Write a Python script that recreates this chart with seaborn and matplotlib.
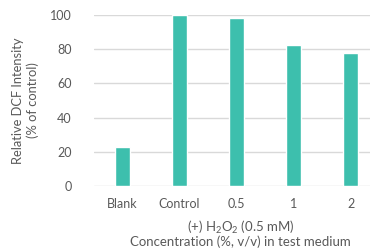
import pandas as pd
import numpy as np
import seaborn as sns
import matplotlib.pyplot as plt

categories = ['Blank', 'Control', '0.5', '1', '2']
intensity = [23, 100, 98, 82.5, 78]
yticks = [0, 20, 40, 60, 80, 100]

sns.set_style('white')
plt.rcParams['font.family'] = ['Lato', 'DejaVu Sans']
plt.rcParams['mathtext.default'] = 'regular'
gray = '#595959'

df = pd.DataFrame({'cat': categories, 'val': intensity})

fig = plt.figure(figsize=(3.7, 2.48), dpi=100)
ax = fig.add_axes([0.254, 0.25, 0.746, 0.69])
sns.barplot(data=df, x='cat', y='val', color='#3dbfad', saturation=1, width=0.27, ax=ax)
ax.set_ylim(0, 100)
ax.set_yticks(yticks)
ax.set_xlim(-0.5, 4.34)
ax.yaxis.grid(True, color='#d9d9d9', linewidth=1)
ax.set_axisbelow(True)
for s in ax.spines.values():
    s.set_visible(False)
ax.tick_params(axis='both', colors=gray, labelsize=9, length=0)
ax.tick_params(axis='x', pad=9)
ax.tick_params(axis='y', pad=16)
ax.set_ylabel('Relative DCF Intensity\n(% of control)', color=gray, fontsize=9.3,
              linespacing=1.25)
ax.yaxis.set_label_coords(-0.2, 0.5, transform=ax.transAxes)
ax.set_xlabel('(+) H$_2$O$_2$ (0.5 mM)\nConcentration (%, v/v) in test medium',
              color=gray, fontsize=9.5, linespacing=0.95)
ax.xaxis.set_label_coords(0.53, -0.195, transform=ax.transAxes)
ax.xaxis.label.set_verticalalignment('top')
fig.savefig('out.png', dpi=100)
